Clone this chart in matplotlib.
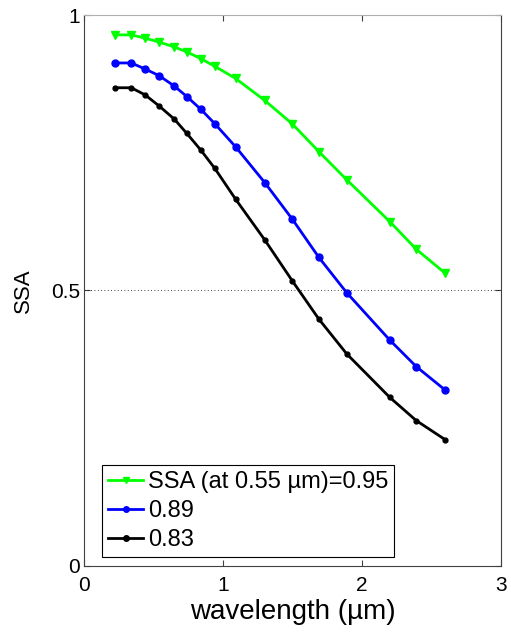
import matplotlib
matplotlib.use('Agg')
import matplotlib.pyplot as plt

plt.rcParams['font.family'] = ['Liberation Sans', 'DejaVu Sans']

# wavelengths (um) and single scattering albedo
wavelength = [0.22, 0.34, 0.44, 0.54, 0.65, 0.74, 0.84, 0.94, 1.09,
              1.30, 1.50, 1.69, 1.89, 2.20, 2.39, 2.60]
ssa_095 = [0.964, 0.964, 0.958, 0.951, 0.942, 0.933, 0.921, 0.907, 0.885,
           0.845, 0.802, 0.752, 0.701, 0.625, 0.575, 0.531]
ssa_089 = [0.913, 0.913, 0.902, 0.890, 0.871, 0.852, 0.829, 0.803, 0.761,
           0.696, 0.629, 0.560, 0.496, 0.410, 0.362, 0.319]
ssa_083 = [0.868, 0.868, 0.855, 0.835, 0.811, 0.785, 0.755, 0.722, 0.666,
           0.592, 0.517, 0.448, 0.385, 0.306, 0.264, 0.229]
labels = ['SSA (at 0.55 µm)=0.95', '0.89', '0.83']

fig = plt.figure(figsize=(5.11, 6.34), dpi=100)
ax = fig.add_axes([0.1644, 0.1073, 0.816, 0.869])

ax.plot(wavelength, ssa_095, color='#00FF00', lw=2, marker='v', ms=6, label=labels[0])
ax.plot(wavelength, ssa_089, color='#0000FF', lw=2, marker='o', ms=5, label=labels[1])
ax.plot(wavelength, ssa_083, color='black', lw=2, marker='o', ms=3.5, label=labels[2])
ax.axhline(0.5, color='black', lw=0.6, ls=(0, (1, 3)))

ax.set_xlim(0, 3)
ax.set_ylim(0, 1)
ax.set_xticks([0, 1, 2, 3])
ax.set_yticks([0, 0.5, 1])
ax.set_yticklabels(['0', '0.5', '1'])
ax.tick_params(direction='in', length=4, width=0.8, top=True, right=True,
               labelsize=15, colors='#404040', labelcolor='black')
ax.tick_params(axis='x', pad=7)
ax.tick_params(axis='y', pad=3)
for s in ax.spines.values():
    s.set_color('#404040')
    s.set_linewidth(0.8)
ax.spines['top'].set_color('#b0b0b0')

ax.set_xlabel('wavelength (µm)', fontsize=20, labelpad=3)
ax.set_ylabel('SSA', fontsize=16, labelpad=12)

leg = ax.legend(loc='lower left', bbox_to_anchor=(0.043, 0.016), borderaxespad=0,
                fontsize=17, fancybox=False, framealpha=1, handlelength=1.5,
                handletextpad=0.2, labelspacing=0.3, borderpad=0.25)
leg.get_frame().set_edgecolor('black')
leg.get_frame().set_linewidth(0.8)
for h in leg.legend_handles:
    h.set_markersize(4)

fig.savefig('out.png', dpi=100)
